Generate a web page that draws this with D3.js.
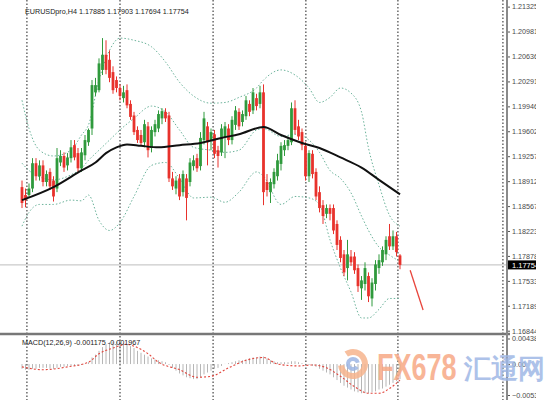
<!DOCTYPE html>
<html>
<head>
<meta charset="utf-8">
<script src="https://cdnjs.cloudflare.com/ajax/libs/d3/7.8.5/d3.min.js"></script>
<style>
  body { margin: 0; background: #fff; }
  svg { display: block; }
  text { font-family: "Liberation Sans", Arial, sans-serif; }
</style>
</head>
<body>
<div id="chart"></div>
<script>
// EURUSDpro H4 candles
var open = [
  1.1883,1.1872,1.1872,1.1881,1.1916,1.1898,1.1913,1.1890,1.1904,1.1892,
  1.1881,1.1917,1.1926,1.1913,1.1923,1.1941,1.1930,1.1909,1.1927,1.1945,
  1.1964,1.2014,1.2017,1.2045,1.2066,1.2059,1.2042,1.2031,1.2020,1.2006,
  1.2017,1.1998,1.1982,1.1962,1.1955,1.1945,1.1967,1.1937,1.1959,1.1964,
  1.1978,1.1987,1.1982,1.1895,1.1881,1.1895,1.1876,1.1895,1.1890,1.1912,
  1.1923,1.1912,1.1948,1.1967,1.1948,1.1956,1.1934,1.1931,1.1951,1.1964,
  1.1948,1.1969,1.1987,1.1973,1.1981,1.1998,1.1989,1.2006,1.1998,1.2014,
  1.1890,1.1876,1.1887,1.1898,1.1915,1.1934,1.1940,1.1945,1.1992,1.1967,
  1.1959,1.1940,1.1898,1.1929,1.1904,1.1876,1.1858,1.1846,1.1854,1.1854,
  1.1832,1.1810,1.1790,1.1771,1.1787,1.1787,1.1771,1.1743,1.1749,1.1760,
  1.1729,1.1749,1.1771,1.1779,1.1790,1.1815,1.1801,1.1815,1.17885];
var high = [
  1.1892,1.1881,1.1888,1.1923,1.1923,1.1920,1.1920,1.1906,1.1909,1.1898,
  1.1937,1.1934,1.1931,1.1930,1.1948,1.1948,1.1937,1.1937,1.1955,1.1964,
  1.2031,1.2034,1.2061,1.2089,1.2086,1.2072,1.2050,1.2036,1.2025,1.2023,
  1.2025,1.2003,1.1987,1.1967,1.1962,1.1976,1.1973,1.1967,1.1976,1.1989,
  1.1992,1.1992,1.1987,1.1904,1.1898,1.1901,1.1906,1.1901,1.1923,1.1927,
  1.1929,1.1959,1.1987,1.1973,1.1964,1.1962,1.1940,1.1970,1.1973,1.1970,
  1.1981,1.1995,1.1992,1.1989,1.2009,1.2003,1.2020,1.2012,1.2023,1.2025,
  1.1901,1.1895,1.1909,1.1929,1.1945,1.1948,1.1953,1.2000,1.2003,1.1976,
  1.1964,1.1945,1.1934,1.1934,1.1909,1.1884,1.1865,1.1859,1.1859,1.1859,
  1.1837,1.1815,1.1796,1.1810,1.1796,1.1793,1.1776,1.1760,1.1779,1.1765,
  1.1757,1.1782,1.1790,1.1801,1.1815,1.1832,1.1823,1.1821,1.17903];
var low = [
  1.1854,1.1855,1.1868,1.1876,1.1892,1.1892,1.1884,1.1884,1.1879,1.1863,
  1.1876,1.1912,1.1904,1.1906,1.1917,1.1920,1.1904,1.1904,1.1920,1.1940,
  1.1955,1.2009,1.2014,1.2038,1.2039,1.2028,1.2012,1.2014,1.2003,1.2000,
  1.1992,1.1976,1.1955,1.1944,1.1940,1.1938,1.1924,1.1931,1.1953,1.1959,
  1.1970,1.1973,1.1890,1.1879,1.1873,1.1865,1.1870,1.1837,1.1884,1.1906,
  1.1904,1.1906,1.1942,1.1913,1.1934,1.1923,1.1910,1.1926,1.1923,1.1941,
  1.1942,1.1962,1.1962,1.1967,1.1976,1.1981,1.1984,1.1989,1.1992,1.1858,
  1.1870,1.1861,1.1881,1.1892,1.1906,1.1926,1.1934,1.1941,1.1956,1.1948,
  1.1934,1.1892,1.1890,1.1895,1.1865,1.1848,1.1832,1.1840,1.1837,1.1818,
  1.1796,1.1779,1.1760,1.1754,1.1774,1.1763,1.1738,1.1727,1.1740,1.1724,
  1.1718,1.1740,1.1763,1.1774,1.1782,1.1796,1.1796,1.1787,1.17694];
var close = [
  1.1861,1.1865,1.1881,1.1916,1.1898,1.1913,1.1890,1.1901,1.1884,1.1870,
  1.1923,1.1926,1.1910,1.1924,1.1938,1.1924,1.1909,1.1931,1.1948,1.1962,
  1.2024,1.2024,1.2054,1.2066,1.2045,1.2034,1.2017,1.2020,1.2009,1.2014,
  1.1996,1.1980,1.1959,1.1948,1.1944,1.1970,1.1934,1.1962,1.1970,1.1984,
  1.1988,1.1978,1.1895,1.1884,1.1892,1.1870,1.1901,1.1868,1.1917,1.1920,
  1.1909,1.1951,1.1978,1.1945,1.1959,1.1929,1.1926,1.1964,1.1967,1.1948,
  1.1976,1.1989,1.1967,1.1984,1.2003,1.1987,1.2014,1.1995,1.2014,1.1876,
  1.1879,1.1890,1.1904,1.1920,1.1940,1.1941,1.1948,1.1992,1.1962,1.1953,
  1.1941,1.1898,1.1930,1.1901,1.1870,1.1854,1.1843,1.1854,1.1846,1.1823,
  1.1803,1.1785,1.1765,1.1790,1.1779,1.1768,1.1746,1.1754,1.1771,1.1732,
  1.1751,1.1776,1.1782,1.1796,1.1810,1.1801,1.1815,1.1793,1.17754];

// black moving average, sampled at bar indexes
var maIdx = [0,9,17,21,24,27,30,34,39,45,51,57,62,69,74,80,85,91,97,102,108];
var maVal = [1.1865,1.1883,1.1906,1.1917,1.1930,1.1938,1.1942,1.1940,1.1938,1.1941,
             1.1944,1.1951,1.1956,1.1966,1.1955,1.1944,1.1937,1.1924,1.1910,1.1893,1.1873];

// bollinger bands (green dotted), sampled at bar indexes
var bbIdx = [0,2,5,9,14,17,19,22,25,28,32,37,41,45,49,54,58,62,67,69,74,78,82,85,88,91,94,97,99,102,105,108];
var bbUpper = [1.2003,1.1964,1.1934,1.1926,1.1934,1.1955,1.1969,1.2031,1.2072,1.2089,1.2086,1.2077,
               1.2056,1.2028,1.2009,1.1999,1.2000,1.2007,1.2020,1.2031,1.2045,1.2038,1.2020,1.2000,
               1.2007,1.2020,1.2013,1.1987,1.1937,1.1886,1.1844,1.1829];
var bbMiddle = [1.1916,1.1906,1.1897,1.1893,1.1900,1.1909,1.1920,1.1934,1.1948,1.1962,1.1978,1.1995,
                1.1987,1.1962,1.1938,1.1934,1.1931,1.1934,1.1962,1.1964,1.1953,1.1956,1.1948,1.1931,
                1.1906,1.1895,1.1875,1.1843,1.1823,1.1800,1.1789,1.1780];
var bbLower = [1.1829,1.1848,1.1859,1.1859,1.1865,1.1864,1.1872,1.1837,1.1823,1.1834,1.1870,1.1913,
               1.1917,1.1895,1.1868,1.1869,1.1862,1.1876,1.1904,1.1898,1.1859,1.1870,1.1868,1.1859,
               1.1810,1.1771,1.1738,1.1702,1.1702,1.1714,1.1729,1.1729];

// MACD(12,26,9) histogram, one value per bar
var macdHist = [
  -0.00081,-0.00097,-0.00097,-0.00081,-0.00081,-0.00065,-0.00065,-0.00065,-0.00081,-0.00081,
  -0.00065,-0.00048,-0.00048,-0.00032,-0.00032,-0.00032,-0.00032,-0.00016,0.00005,0.00032,
  0.00113,0.00161,0.00226,0.00290,0.00339,0.00371,0.00387,0.00387,0.00371,0.00355,
  0.00339,0.00307,0.00274,0.00226,0.00194,0.00161,0.00129,0.00097,0.00081,0.00065,
  0.00048,0.00032,-0.00016,-0.00065,-0.00113,-0.00161,-0.00194,-0.00226,-0.00242,-0.00258,
  -0.00258,-0.00226,-0.00177,-0.00145,-0.00113,-0.00081,-0.00065,-0.00032,0.00003,0.00016,
  0.00032,0.00048,0.00065,0.00065,0.00081,0.00097,0.00113,0.00113,0.00129,0.00129,
  0.00097,0.00065,0.00048,0.00032,0.00032,0.00032,0.00032,0.00048,0.00048,0.00032,
  0.00016,0.00003,-0.00016,-0.00032,-0.00048,-0.00081,-0.00113,-0.00145,-0.00177,-0.00226,
  -0.00274,-0.00323,-0.00371,-0.00403,-0.00436,-0.00468,-0.00484,-0.00500,-0.00500,-0.00500,
  -0.00484,-0.00468,-0.00436,-0.00419,-0.00387,-0.00355,-0.00323,-0.00290,-0.00258];
// signal line (red dotted), sampled
var sigIdx = [0,6,13,19,22,26,30,32,36,39,45,50,54,59,64,69,73,79,83,87,91,95,99,102,105,108];
var sigVal = [-0.00048,-0.00097,-0.00048,0.00032,0.00177,0.00274,0.00339,0.00307,0.00177,0.00032,
              -0.00097,-0.00226,-0.00210,-0.00065,0.00065,0.00113,0.0,-0.00032,-0.00016,-0.00065,
              -0.00210,-0.00387,-0.00500,-0.00500,-0.00419,-0.00274];

// week separators and the hand drawn red line (bar index / price)
var sepIdx = [1.4, 28, 54.6, 81.1, 107.4, 137.4];
var arrowIdx = [110.9, 114.6];
var arrowPrice = [1.1768, 1.1713];

var priceTicks = [1.21325,1.20981,1.20636,1.20291,1.19946,1.19602,1.19257,
                  1.18912,1.18567,1.18223,1.17878,1.17533,1.17189,1.16844];
var macdTicks = [0.00438, 0, -0.0053];

var headerText = "EURUSDpro,H4  1.17885 1.17903 1.17694 1.17754";
var macdText = "MACD(12,26,9) -0.001175 -0.001967";

// layout
var width = 560, height = 400, axisX = 507;

var x = d3.scaleLinear().domain([0, 108]).range([22, 400]);
var y = d3.scaleLinear().domain([1.1684, 1.2132]).range([331, 7]);
var ym = d3.scaleLinear().domain([-0.0053, 0.00438]).range([395, 338.5]);

var svg = d3.select("#chart").append("svg")
    .attr("width", width)
    .attr("height", height);

svg.append("rect").attr("width", width).attr("height", height).attr("fill", "#fff");

// bid line
var lastClose = close[close.length - 1];
svg.append("line")
    .attr("x1", 0).attr("x2", axisX)
    .attr("y1", y(lastClose)).attr("y2", y(lastClose))
    .attr("stroke", "#bdbdbd").attr("stroke-width", 1);

// MACD histogram
svg.selectAll(".hist")
    .data(macdHist)
  .enter().append("line")
    .attr("class", "hist")
    .attr("x1", function(d, i) { return x(i); })
    .attr("x2", function(d, i) { return x(i); })
    .attr("y1", ym(0))
    .attr("y2", function(d) { return ym(d); })
    .attr("stroke", "#b6b6b6")
    .attr("stroke-width", 1);

// week separators
svg.selectAll(".sep")
    .data(sepIdx)
  .enter().append("line")
    .attr("class", "sep")
    .attr("x1", function(d) { return x(d); })
    .attr("x2", function(d) { return x(d); })
    .attr("y1", 0).attr("y2", height)
    .attr("stroke", "#5e5e5e")
    .attr("stroke-width", 1.4)
    .attr("stroke-dasharray", "1.5,2");

// bollinger bands
function bandLine(vals) {
  var pts = bbIdx.map(function(d, k) { return {i: d, v: vals[k]}; });
  return d3.line()
      .x(function(d) { return x(d.i); })
      .y(function(d) { return y(d.v); })
      .curve(d3.curveMonotoneX)(pts);
}
[bbUpper, bbMiddle, bbLower].forEach(function(vals) {
  svg.append("path")
      .attr("d", bandLine(vals))
      .attr("fill", "none")
      .attr("stroke", "#6cb39b")
      .attr("stroke-width", 1)
      .attr("stroke-dasharray", "1.5,2");
});

// candles
var candles = d3.range(open.length).map(function(i) {
  return {i: i, o: open[i], h: high[i], l: low[i], c: close[i]};
});
var bw = 2.8;
function candleColor(d) { return d.c >= d.o ? "#2f9a3c" : "#e8322c"; }

var cg = svg.append("g");
cg.selectAll(".wick")
    .data(candles)
  .enter().append("line")
    .attr("class", "wick")
    .attr("x1", function(d) { return x(d.i); })
    .attr("x2", function(d) { return x(d.i); })
    .attr("y1", function(d) { return y(d.h); })
    .attr("y2", function(d) { return y(d.l); })
    .attr("stroke", candleColor)
    .attr("stroke-width", 1);
cg.selectAll(".body")
    .data(candles)
  .enter().append("rect")
    .attr("class", "body")
    .attr("x", function(d) { return x(d.i) - bw / 2; })
    .attr("width", bw)
    .attr("y", function(d) { return y(Math.max(d.o, d.c)); })
    .attr("height", function(d) { return Math.max(1, Math.abs(y(d.o) - y(d.c))); })
    .attr("fill", candleColor);

// moving average
var maPts = maIdx.map(function(d, k) { return {i: d, v: maVal[k]}; });
svg.append("path")
    .attr("d", d3.line()
        .x(function(d) { return x(d.i); })
        .y(function(d) { return y(d.v); })
        .curve(d3.curveMonotoneX)(maPts))
    .attr("fill", "none")
    .attr("stroke", "#111")
    .attr("stroke-width", 2);

// MACD signal
var sigPts = sigIdx.map(function(d, k) { return {i: d, v: sigVal[k]}; });
svg.append("path")
    .attr("d", d3.line()
        .x(function(d) { return x(d.i); })
        .y(function(d) { return ym(d.v); })
        .curve(d3.curveMonotoneX)(sigPts))
    .attr("fill", "none")
    .attr("stroke", "#e2453c")
    .attr("stroke-width", 1.1)
    .attr("stroke-dasharray", "2,2");

// red hand-drawn line
svg.append("line")
    .attr("x1", x(arrowIdx[0])).attr("y1", y(arrowPrice[0]))
    .attr("x2", x(arrowIdx[1])).attr("y2", y(arrowPrice[1]))
    .attr("stroke", "#e8453c").attr("stroke-width", 1.3);

// panel separator
svg.append("line")
    .attr("x1", 0).attr("x2", axisX + 3)
    .attr("y1", 334).attr("y2", 334)
    .attr("stroke", "#777").attr("stroke-width", 2.5);

// price scale (last digit is cut off like in the terminal)
svg.append("defs").append("clipPath").attr("id", "lblclip")
  .append("rect").attr("x", axisX).attr("y", 0).attr("width", 29).attr("height", height);

var scaleG = svg.append("g").attr("clip-path", "url(#lblclip)");

var axisG = scaleG.append("g")
    .attr("transform", "translate(" + axisX + ",0)")
    .call(d3.axisRight(y).tickValues(priceTicks).tickSize(3).tickPadding(2)
        .tickFormat(d3.format(".5f")));
axisG.select(".domain").remove();

var macdAxis = scaleG.append("g")
    .attr("transform", "translate(" + axisX + ",0)")
    .call(d3.axisRight(ym).tickValues(macdTicks).tickSize(3).tickPadding(2)
        .tickFormat(function(d) { return d === 0 ? "0.00" : d3.format(".5f")(d); }));
macdAxis.select(".domain").remove();

scaleG.selectAll(".tick text")
    .attr("font-family", "Liberation Sans, Arial, sans-serif")
    .attr("font-size", 7.2)
    .attr("fill", "#4a4a4a");
scaleG.selectAll(".tick line").attr("stroke", "#555");

// current price box
scaleG.append("rect")
    .attr("x", axisX).attr("y", y(lastClose) - 4.5)
    .attr("width", 32).attr("height", 9)
    .attr("fill", "#000");
scaleG.append("text")
    .attr("x", axisX + 5).attr("y", y(lastClose) + 3)
    .attr("font-size", 7.5).attr("fill", "#fff")
    .text(d3.format(".5f")(lastClose));

// axis line
svg.append("line")
    .attr("x1", axisX).attr("x2", axisX)
    .attr("y1", 0).attr("y2", height)
    .attr("stroke", "#8a8a8a").attr("stroke-width", 2);

// texts
svg.append("text")
    .attr("x", 25).attr("y", 14)
    .attr("font-size", 7.2).attr("fill", "#222")
    .text(headerText);
svg.append("text")
    .attr("x", 22).attr("y", 345)
    .attr("font-size", 7.2).attr("fill", "#222")
    .text(macdText);

// watermark
var wm = svg.append("g").attr("opacity", 0.85);
wm.append("path")
    .attr("d", d3.arc()({innerRadius: 9, outerRadius: 15, startAngle: -0.6, endAngle: 4.6}))
    .attr("transform", "translate(353,364)")
    .attr("fill", "#f6b48e");
wm.append("path")
    .attr("d", d3.arc()({innerRadius: 3, outerRadius: 7, startAngle: 2.2, endAngle: 7.6}))
    .attr("transform", "translate(353,364)")
    .attr("fill", "#9db6e4");
wm.append("text")
    .attr("transform", "translate(377,380) scale(1,1.4)")
    .attr("font-size", 27).attr("font-weight", "bold")
    .attr("fill", "#f7a985")
    .text("FX678");
wm.append("text")
    .attr("x", 464).attr("y", 378)
    .attr("font-family", "Noto Sans CJK SC")
    .attr("font-size", 27).attr("font-weight", "bold")
    .attr("fill", "#9fb8e6")
    .text("汇通网");
</script>
</body>
</html>
